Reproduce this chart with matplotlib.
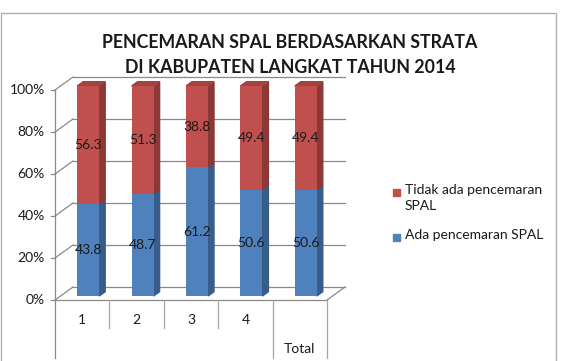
import matplotlib.pyplot as plt
from matplotlib.patches import Polygon, Rectangle

# data
strata = ['1', '2', '3', '4', 'Total']
ada = [43.8, 48.7, 61.2, 50.6, 50.6]
tidak = [56.3, 51.3, 38.8, 49.4, 49.4]
yticks = [0, 20, 40, 60, 80, 100]
series = ['Tidak ada pencemaran\nSPAL', 'Ada pencemaran SPAL']
colors = ['#C0504D', '#4F81BD']

plt.rcParams['font.family'] = ['Lato', 'DejaVu Sans']

W, H = 563, 361
fig = plt.figure(figsize=(W / 100, H / 100), dpi=100)

# front plane of the 3d box: x 55..327 px, y 300 (0%) .. 90 (100%)
ax = fig.add_axes([55 / W, (H - 300) / H, 272 / W, 210 / H])
ax.set_xlim(-0.5, 4.5)
ax.set_ylim(0, 100)
ax.axis('off')

px_x = 272 / 5.0   # pixels per category
px_y = 210 / 100.0  # pixels per percent

back_dx, back_dy = 18 / px_x, 13 / px_y   # back wall offset
bar_dx, bar_dy = 6 / px_x, 4 / px_y       # bar front face offset
dep_x, dep_y = 6 / px_x, 4.3 / px_y       # bar depth
width = 22 / px_x
grid = '#898989'
bottom_y = -(358 - 300) / px_y

# walls and gridlines
for v in yticks:
    ax.plot([-0.5 + back_dx, 4.5 + back_dx], [v + back_dy] * 2, color=grid, lw=0.9, clip_on=False, zorder=1)
    ax.plot([-0.5, -0.5 + back_dx], [v, v + back_dy], color=grid, lw=0.9, clip_on=False, zorder=1)
    ax.plot([-0.5 - 4 / px_x, -0.5], [v, v], color=grid, lw=0.9, clip_on=False, zorder=1)
    ax.text(-0.5 - 10 / px_x, v, f'{v}%', ha='right', va='center', fontsize=10, color='#1a1a1a')
ax.plot([-0.5, -0.5], [100, bottom_y], color=grid, lw=0.9, clip_on=False, zorder=1)
ax.plot([-0.5, 4.5], [0, 0], color=grid, lw=0.9, clip_on=False, zorder=1)
ax.plot([4.5, 4.5 + back_dx], [0, back_dy], color=grid, lw=0.9, clip_on=False, zorder=1)

# category table under the floor
for i in range(1, 6):
    low = bottom_y if i >= 4 else -(328 - 300) / px_y
    ax.plot([i - 0.5, i - 0.5], [0, low], color='#a6a6a6', lw=0.9, clip_on=False, zorder=1)
for i, s in enumerate(strata):
    if s == 'Total':
        ax.text(i, -(349 - 300) / px_y, s, ha='center', va='center', fontsize=10, color='#1a1a1a')
    else:
        ax.text(i, -(320 - 300) / px_y, s, ha='center', va='center', fontsize=10, color='#1a1a1a')

# stacked bars (100%)
x = [i + bar_dx for i in range(len(strata))]
tot = [a + t for a, t in zip(ada, tidak)]
h_ada = [a / s * 100 for a, s in zip(ada, tot)]
h_tidak = [t / s * 100 for t, s in zip(tidak, tot)]
base = [bar_dy] * len(strata)
top_ada = [b + h for b, h in zip(base, h_ada)]

ax.bar(x, h_ada, width, bottom=base, color=colors[1], zorder=3, clip_on=False)
ax.bar(x, h_tidak, width, bottom=top_ada, color=colors[0], zorder=3, clip_on=False)

for xi, y0, ha_, ht in zip(x, base, h_ada, h_tidak):
    xr = xi + width / 2
    xl = xi - width / 2
    y1 = y0 + ha_
    y2 = y1 + ht
    ax.add_patch(Polygon([(xr, y0), (xr + dep_x, y0 + dep_y), (xr + dep_x, y1 + dep_y), (xr, y1)],
                         closed=True, color='#385D8A', zorder=2.9, clip_on=False))
    ax.add_patch(Polygon([(xr, y1), (xr + dep_x, y1 + dep_y), (xr + dep_x, y2 + dep_y), (xr, y2)],
                         closed=True, color='#8C3836', zorder=2.9, clip_on=False))
    ax.add_patch(Polygon([(xl, y2), (xr, y2), (xr + dep_x, y2 + dep_y), (xl + dep_x, y2 + dep_y)],
                         closed=True, color='#A5413E', zorder=2.9, clip_on=False))

# value labels
for xi, y0, ha_, ht, a, t in zip(x, base, h_ada, h_tidak, ada, tidak):
    ax.text(xi, y0 + ha_ / 2, f'{a}', ha='center', va='center', fontsize=10, color='#1a1a1a', zorder=5)
    ax.text(xi, y0 + ha_ + ht / 2, f'{t}', ha='center', va='center', fontsize=10, color='#1a1a1a', zorder=5)

# title
fig.text(290 / W, 1 - 55 / H, 'PENCEMARAN SPAL BERDASARKAN STRATA\nDI KABUPATEN LANGKAT TAHUN 2014',
         ha='center', va='center', fontsize=12.8, fontweight='bold', color='#1a1a1a', linespacing=1.55)

# legend (drawn like Excel: square next to the first line of the label)
for lab, col, yc in zip(series, colors, [192, 237]):
    fig.patches.append(Rectangle((393 / W, 1 - (yc + 3.5) / H), 7 / W, 7 / H, color=col,
                                 transform=fig.transFigure))
    fig.text(405 / W, 1 - (yc - 8) / H, lab, ha='left', va='top', fontsize=10, color='#1a1a1a',
             linespacing=1.45)

# chart border
fig.patches.append(Rectangle((0.5 / W, -0.05), 555.5 / W, (H - 13) / H + 0.05, fill=False,
                             edgecolor='#b0b0b0', lw=1.0, transform=fig.transFigure))

fig.savefig('out.png', dpi=100)
